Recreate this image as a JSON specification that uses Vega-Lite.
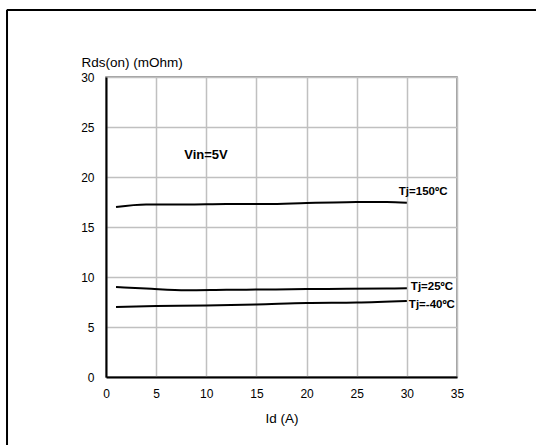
{
  "$schema": "https://vega.github.io/schema/vega-lite/v6.json",
  "width": 351,
  "height": 300,
  "autosize": {"type": "none"},
  "padding": {"left": 106, "top": 77, "right": 79, "bottom": 68},
  "background": "white",
  "config": {
    "font": "Liberation Sans",
    "view": {"stroke": "#808080", "strokeWidth": 1.5},
    "axis": {
      "domainColor": "#000000",
      "domainWidth": 2,
      "gridColor": "#c0c0c0",
      "gridWidth": 1.5,
      "ticks": false,
      "labelFont": "Liberation Sans",
      "labelFontSize": 12,
      "labelColor": "#000000",
      "titleFont": "Liberation Sans",
      "titleFontSize": 13.5,
      "titleFontWeight": "normal",
      "titleColor": "#000000"
    }
  },
  "datasets": {
    "curves": [
      {"Id": 1, "Rds": 17.0, "Tj": "150"},
      {"Id": 4, "Rds": 17.25, "Tj": "150"},
      {"Id": 8, "Rds": 17.25, "Tj": "150"},
      {"Id": 12, "Rds": 17.3, "Tj": "150"},
      {"Id": 16, "Rds": 17.3, "Tj": "150"},
      {"Id": 20, "Rds": 17.4, "Tj": "150"},
      {"Id": 24, "Rds": 17.48, "Tj": "150"},
      {"Id": 28, "Rds": 17.5, "Tj": "150"},
      {"Id": 30, "Rds": 17.43, "Tj": "150"},
      {"Id": 1, "Rds": 9.0, "Tj": "25"},
      {"Id": 4, "Rds": 8.85, "Tj": "25"},
      {"Id": 8, "Rds": 8.67, "Tj": "25"},
      {"Id": 12, "Rds": 8.72, "Tj": "25"},
      {"Id": 16, "Rds": 8.75, "Tj": "25"},
      {"Id": 20, "Rds": 8.8, "Tj": "25"},
      {"Id": 24, "Rds": 8.82, "Tj": "25"},
      {"Id": 28, "Rds": 8.85, "Tj": "25"},
      {"Id": 30, "Rds": 8.88, "Tj": "25"},
      {"Id": 1, "Rds": 7.0, "Tj": "-40"},
      {"Id": 5, "Rds": 7.1, "Tj": "-40"},
      {"Id": 10, "Rds": 7.15, "Tj": "-40"},
      {"Id": 15, "Rds": 7.25, "Tj": "-40"},
      {"Id": 20, "Rds": 7.4, "Tj": "-40"},
      {"Id": 25, "Rds": 7.45, "Tj": "-40"},
      {"Id": 30, "Rds": 7.6, "Tj": "-40"}
    ],
    "labels": [
      {"Id": 29.2, "Rds": 18.5, "text": "Tj=150ºC", "size": 11.5},
      {"Id": 30.4, "Rds": 8.97, "text": "Tj=25ºC", "size": 11.5},
      {"Id": 30.2, "Rds": 7.2, "text": "Tj=-40ºC", "size": 11.5},
      {"Id": 7.8, "Rds": 22.2, "text": "Vin=5V", "size": 13}
    ],
    "frameTop": [{"x1": -9.9, "x2": 43, "y": 36.7}],
    "frameLeft": [{"x": -9.87, "y1": -7, "y2": 36.7}]
  },
  "layer": [
    {
      "data": {"name": "curves"},
      "mark": {"type": "line", "color": "#000000", "strokeWidth": 2, "interpolate": "monotone"},
      "encoding": {
        "x": {
          "field": "Id",
          "type": "quantitative",
          "scale": {"domain": [0, 35], "nice": false, "zero": false},
          "axis": {
            "values": [0, 5, 10, 15, 20, 25, 30, 35],
            "title": "Id (A)",
            "labelPadding": 11,
            "titlePadding": 12,
            "labelFlush": false
          }
        },
        "y": {
          "field": "Rds",
          "type": "quantitative",
          "scale": {"domain": [0, 30], "nice": false, "zero": false},
          "axis": {
            "values": [0, 5, 10, 15, 20, 25, 30],
            "title": "Rds(on) (mOhm)",
            "titleAngle": 0,
            "titleAlign": "left",
            "titleBaseline": "alphabetic",
            "titleX": -25,
            "titleY": -11,
            "labelPadding": 12,
            "labelFlush": false
          }
        },
        "detail": {"field": "Tj", "type": "nominal"}
      }
    },
    {
      "data": {"name": "labels"},
      "mark": {"type": "text", "fontWeight": "bold", "align": "left", "baseline": "middle", "color": "#000000"},
      "encoding": {
        "x": {"field": "Id", "type": "quantitative"},
        "y": {"field": "Rds", "type": "quantitative"},
        "text": {"field": "text", "type": "nominal"},
        "size": {"field": "size", "type": "quantitative", "scale": null}
      }
    },
    {
      "data": {"name": "frameTop"},
      "mark": {"type": "rule", "color": "#000000", "strokeWidth": 2, "clip": false},
      "encoding": {
        "x": {"field": "x1", "type": "quantitative"},
        "x2": {"field": "x2"},
        "y": {"field": "y", "type": "quantitative"}
      }
    },
    {
      "data": {"name": "frameLeft"},
      "mark": {"type": "rule", "color": "#000000", "strokeWidth": 2, "clip": false},
      "encoding": {
        "x": {"field": "x", "type": "quantitative"},
        "y": {"field": "y1", "type": "quantitative"},
        "y2": {"field": "y2"}
      }
    }
  ]
}
